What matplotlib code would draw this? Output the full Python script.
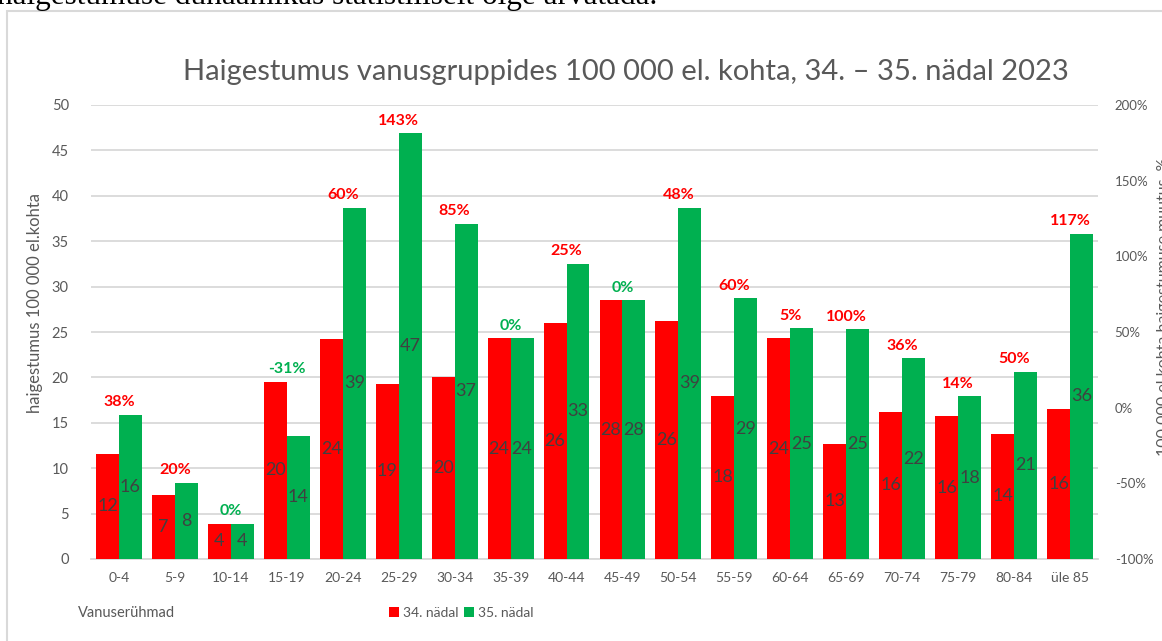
import numpy as np
import matplotlib
matplotlib.use("Agg")
from matplotlib import pyplot as plt
from matplotlib.patches import Rectangle

plt.rcParams['font.family'] = ['Lato', 'DejaVu Sans']

# andmed
vanus = ['0-4', '5-9', '10-14', '15-19', '20-24', '25-29', '30-34', '35-39', '40-44',
         '45-49', '50-54', '55-59', '60-64', '65-69', '70-74', '75-79', '80-84', 'üle 85']
nadal34 = [11.6, 7.0, 3.9, 19.5, 24.2, 19.3, 20.0, 24.3, 26.0,
           28.5, 26.2, 18.0, 24.3, 12.7, 16.2, 15.7, 13.8, 16.5]
nadal35 = [15.9, 8.4, 3.9, 13.6, 38.7, 46.9, 36.9, 24.3, 32.5,
           28.5, 38.7, 28.7, 25.4, 25.3, 22.1, 17.9, 20.6, 35.8]
silt34 = ['12', '7', '4', '20', '24', '19', '20', '24', '26',
          '28', '26', '18', '24', '13', '16', '16', '14', '16']
silt35 = ['16', '8', '4', '14', '39', '47', '37', '24', '33',
          '28', '39', '29', '25', '25', '22', '18', '21', '36']
muutus = [38, 20, 0, -31, 60, 143, 85, 0, 25, 0, 48, 60, 5, 100, 36, 14, 50, 117]

punane = '#FF0000'
roheline = '#00B050'
hall = '#595959'

W, H = 1162, 641
fig = plt.figure(figsize=(W / 100, H / 100), dpi=100)

# raam ja dokumendi tekst
fig.patches.append(Rectangle((7 / W, -0.1), 1.2, 1 - 11 / H + 0.1, transform=fig.transFigure,
                             fill=False, edgecolor='#D9D9D9', linewidth=1.5))
fig.text(-3 / W, 1 - 4 / H, 'haigestumuse dünaamikas statistiliselt õige arvatada.',
         family='Liberation Serif', fontsize=22.5, va='baseline', ha='left', color='black')

ax = fig.add_axes([91 / W, 1 - 559 / H, (1098 - 91) / W, (559 - 105) / H])
x = np.arange(len(vanus))
w = 0.41
ax.bar(x - w / 2, nadal34, w, color=punane, label='34. nädal', zorder=3)
ax.bar(x + w / 2, nadal35, w, color=roheline, label='35. nädal', zorder=3)

for i in range(len(vanus)):
    ax.text(x[i] - w / 2, nadal34[i] / 2, silt34[i], ha='center', va='center',
            fontsize=13, color='#404040', zorder=4)
    ax.text(x[i] + w / 2, nadal35[i] / 2, silt35[i], ha='center', va='center',
            fontsize=13, color='#404040', zorder=4)
    col = punane if muutus[i] > 0 else roheline
    top = max(nadal34[i], nadal35[i])
    ax.annotate(f'{muutus[i]}%', (x[i], top), xytext=(0, 4), textcoords='offset points',
                ha='center', va='bottom', fontsize=11.5, fontweight='bold', color=col, zorder=4)

ax.set_xlim(-0.5, len(vanus) - 0.5)
ax.set_ylim(0, 50)
ax.set_yticks(np.arange(0, 51, 5))
ax.set_xticks(x)
ax.set_xticklabels(vanus)
ax.grid(axis='y', color='#D9D9D9', linewidth=1.3, zorder=0)
for s in ['top', 'right', 'left']:
    ax.spines[s].set_visible(False)
ax.spines['bottom'].set_color('#D9D9D9')
ax.spines['bottom'].set_linewidth(1.3)
ax.tick_params(axis='x', length=0, labelsize=10, labelcolor=hall, pad=9)
ax.tick_params(axis='y', length=0, labelsize=10.5, labelcolor=hall, pad=16)

ax2 = ax.twinx()
ax2.set_ylim(-100, 200)
ax2.set_yticks(np.arange(-100, 201, 50))
ax2.set_yticklabels([f'{v}%' for v in range(-100, 201, 50)])
for s in ax2.spines.values():
    s.set_visible(False)
ax2.tick_params(axis='y', length=0, labelsize=9.5, labelcolor=hall, pad=12)

fig.text(626 / W, 1 - 72 / H, 'Haigestumus vanusgruppides 100 000 el. kohta, 34. – 35. nädal 2023',
         ha='center', va='center', fontsize=21, color=hall)
fig.text(35 / W, 1 - 303 / H, 'haigestumus 100 000 el.kohta', rotation=90,
         ha='center', va='center', fontsize=12, color=hall)
fig.text(1164 / W, 1 - 307 / H, '100 000 el kohta haigestumuse muutus, %', rotation=90,
         ha='center', va='center', fontsize=11.5, color=hall)
fig.text(78 / W, 1 - 613 / H, 'Vanuserühmad', ha='left', va='center', fontsize=10.5, color=hall)

fig.legend(loc='center', bbox_to_anchor=(461 / W, 1 - 613 / H), ncol=2, frameon=False,
           fontsize=10, handlelength=0.7, handleheight=0.7, handletextpad=0.3,
           columnspacing=0.4, labelcolor=hall, borderpad=0.2)

fig.savefig('out.png', dpi=100)
